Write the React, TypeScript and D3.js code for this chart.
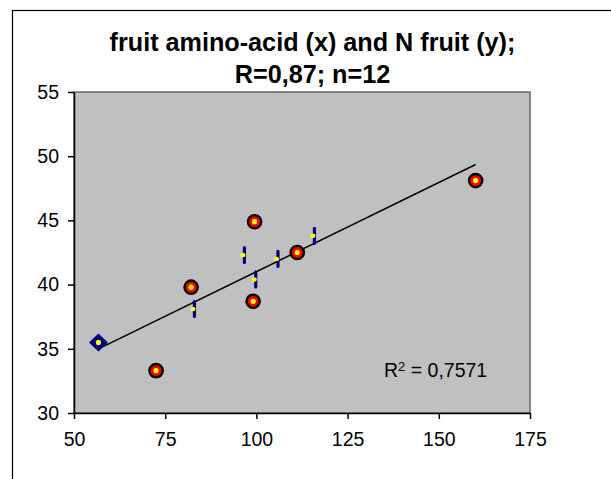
import { useEffect, useRef } from "react";
import * as d3 from "d3";

// values
const diamondX = [56.7];
const diamondY = [35.5];
const circleX = [72.5, 82.1, 99.1, 99.5, 111.2, 160.1];
const circleY = [33.3, 39.8, 38.7, 44.9, 42.5, 48.1];
const dashX = [82.6, 96.3, 99.4, 105.5, 115.5];
const dashY = [38.1, 42.3, 40.4, 42.0, 43.8];

const xTicks = [50, 75, 100, 125, 150, 175];
const yTicks = [30, 35, 40, 45, 50, 55];

const titleLines = ["fruit amino-acid (x) and N fruit (y);", "R=0,87; n=12"];
const r2Label = "0,7571";

const WIDTH = 611;
const HEIGHT = 479;
const FONT = "'Liberation Sans', Arial, sans-serif";

export default function App() {
  const svgRef = useRef<SVGSVGElement>(null);

  useEffect(() => {
    if (!svgRef.current) return;
    const svg = d3.select(svgRef.current);
    svg.selectAll("*").remove();

    const x = d3.scaleLinear().domain([50, 175]).range([74, 530]);
    const y = d3.scaleLinear().domain([30, 55]).range([413, 92]);

    // outer chart frame (runs off the right and bottom of the picture)
    svg
      .append("rect")
      .attr("x", 12.5)
      .attr("y", 10.5)
      .attr("width", 700)
      .attr("height", 600)
      .attr("fill", "white")
      .attr("stroke", "black")
      .attr("stroke-width", 1.2);

    // title
    svg
      .append("text")
      .attr("font-family", FONT)
      .attr("font-weight", "bold")
      .attr("font-size", 25.2)
      .attr("text-anchor", "middle")
      .selectAll("tspan")
      .data(titleLines)
      .join("tspan")
      .attr("x", 312.5)
      .attr("y", (_, i) => 50.5 + i * 32.8)
      .text((d) => d);

    // plot area
    const [x0, x1] = x.range();
    const [y0, y1] = y.range();
    svg
      .append("rect")
      .attr("x", x0)
      .attr("y", y1)
      .attr("width", x1 - x0)
      .attr("height", y0 - y1)
      .attr("fill", "#c0c0c0")
      .attr("stroke", "#666")
      .attr("stroke-width", 1.5);

    // axes
    const yAxis = svg
      .append("g")
      .attr("transform", `translate(${x0},0)`)
      .call(d3.axisLeft(y).tickValues(yTicks).tickSize(6).tickPadding(9).tickSizeOuter(0));
    const xAxis = svg
      .append("g")
      .attr("transform", `translate(0,${y0})`)
      .call(d3.axisBottom(x).tickValues(xTicks).tickSize(6).tickPadding(13).tickSizeOuter(0));
    [yAxis, xAxis].forEach((g) => {
      g.selectAll("path, line").attr("stroke", "black").attr("stroke-width", 1.5);
      g.selectAll("text")
        .attr("font-family", FONT)
        .attr("font-size", 19.5)
        .attr("fill", "black");
    });

    // linear trendline over all points
    const allX = [...diamondX, ...circleX, ...dashX];
    const allY = [...diamondY, ...circleY, ...dashY];
    const mx = d3.mean(allX)!;
    const my = d3.mean(allY)!;
    const sxy = d3.sum(allX, (v, i) => (v - mx) * (allY[i] - my));
    const sxx = d3.sum(allX, (v) => (v - mx) ** 2);
    const slope = sxy / sxx;
    const icpt = my - slope * mx;
    const [minX, maxX] = d3.extent(allX) as [number, number];
    svg
      .append("path")
      .attr(
        "d",
        d3.line()([
          [x(minX), y(icpt + slope * minX)],
          [x(maxX), y(icpt + slope * maxX)],
        ])
      )
      .attr("stroke", "black")
      .attr("stroke-width", 1.5)
      .attr("fill", "none");

    // dash markers
    const dashes = svg
      .append("g")
      .selectAll("g")
      .data(dashX.map((v, i) => [v, dashY[i]]))
      .join("g")
      .attr("transform", (d) => `translate(${x(d[0])},${y(d[1])})`);
    dashes
      .append("line")
      .attr("x1", 1.5)
      .attr("x2", 1.5)
      .attr("y1", -7.5)
      .attr("y2", 7.5)
      .attr("stroke", "#000080")
      .attr("stroke-width", 3.2)
      .attr("stroke-linecap", "round");
    dashes
      .append("ellipse")
      .attr("rx", 2.6)
      .attr("ry", 2.2)
      .attr("fill", "#ffff00");

    // circle markers
    const circles = svg
      .append("g")
      .selectAll("g")
      .data(circleX.map((v, i) => [v, circleY[i]]))
      .join("g")
      .attr("transform", (d) => `translate(${x(d[0])},${y(d[1])})`);
    circles.append("circle").attr("r", 7.8).attr("fill", "black");
    circles.append("circle").attr("r", 5.4).attr("fill", "#ff0000");
    circles.append("circle").attr("r", 2.6).attr("fill", "#ffff00");

    // diamond marker
    const diamonds = svg
      .append("g")
      .selectAll("g")
      .data(diamondX.map((v, i) => [v, diamondY[i]]))
      .join("g")
      .attr("transform", (d) => `translate(${x(d[0])},${y(d[1])})`);
    diamonds
      .append("path")
      .attr("d", "M0,-9 L9.5,0 L0,9 L-9.5,0 Z")
      .attr("fill", "#000080");
    diamonds.append("circle").attr("r", 2.6).attr("fill", "#ffff00");

    // R² label
    const r2 = svg
      .append("text")
      .attr("x", 384)
      .attr("y", 377)
      .attr("font-family", FONT)
      .attr("font-size", 19.5)
      .attr("fill", "black");
    r2.append("tspan").text("R");
    r2.append("tspan").attr("font-size", 13).attr("dy", -6).text("2");
    r2.append("tspan").attr("dy", 6).text(` = ${r2Label}`);
  }, []);

  return (
    <svg
      ref={svgRef}
      width={WIDTH}
      height={HEIGHT}
      style={{ position: "absolute", left: 0, top: 0, background: "white" }}
    />
  );
}
